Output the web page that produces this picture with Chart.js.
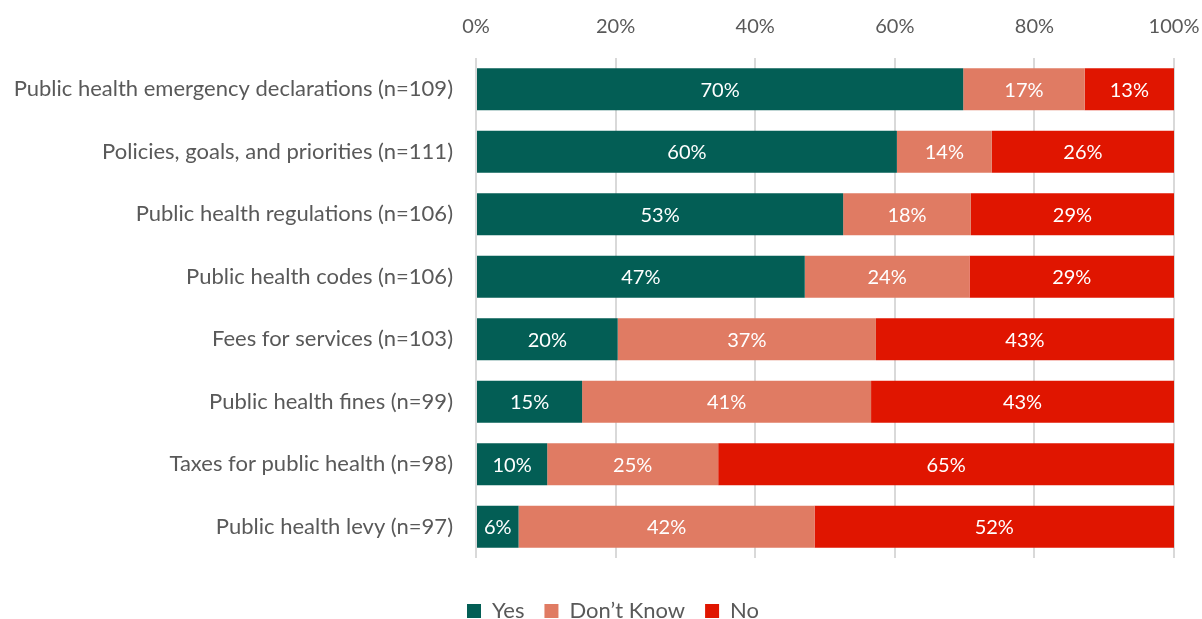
<!DOCTYPE html>
<html>
<head>
<meta charset="utf-8">
<script src="https://cdn.jsdelivr.net/npm/chart.js@4.4.1/dist/chart.umd.min.js"></script>
<style>
  html, body { margin: 0; padding: 0; background: #fff; }
  #wrap { width: 1202px; height: 619px; position: relative; }
</style>
</head>
<body>
<div id="wrap"><canvas id="chart"></canvas></div>
<script>
const categories = [
  "Public health emergency declarations (n=109)",
  "Policies, goals, and priorities (n=111)",
  "Public health regulations (n=106)",
  "Public health codes (n=106)",
  "Fees for services (n=103)",
  "Public health fines (n=99)",
  "Taxes for public health (n=98)",
  "Public health levy (n=97)"
];
const yesValues = [69.8, 60.3, 52.6, 47.1, 20.3, 15.2, 10.2, 6.1];
const dontKnowValues = [17.4, 13.6, 18.3, 23.6, 37.0, 41.4, 24.5, 42.4];
const noValues = [12.8, 26.1, 29.1, 29.3, 42.7, 43.4, 65.3, 51.5];
const xTicks = [0, 20, 40, 60, 80, 100];

const fontFamily = "Lato, 'Open Sans', sans-serif";
const textColor = "#595959";

// white percentage labels in the middle of every segment
const barLabels = {
  id: "barLabels",
  afterDatasetsDraw(chart) {
    const ctx = chart.ctx;
    ctx.save();
    ctx.font = "20px " + fontFamily;
    ctx.fillStyle = "#ffffff";
    ctx.textAlign = "center";
    ctx.textBaseline = "middle";
    chart.data.datasets.forEach((ds, i) => {
      const meta = chart.getDatasetMeta(i);
      meta.data.forEach((bar, j) => {
        const cx = (bar.x + bar.base) / 2;
        ctx.fillText(Math.round(ds.data[j]) + "%", cx, bar.y + 1);
      });
    });
    ctx.restore();
  }
};

// keep the legend short so the plot ends where it should, then nudge it down
const legendSpot = {
  id: "legendSpot",
  beforeLayout(chart) {
    const lg = chart.legend;
    if (lg && !lg._patched) {
      const fit = lg.fit.bind(lg);
      lg.fit = function () { fit(); this.height = 61; };
      lg._patched = true;
    }
  },
  afterLayout(chart) {
    const lg = chart.legend;
    if (lg) {
      lg.top += 22; lg.bottom += 22;
      lg.left += 26; lg.right += 26;
    }
  }
};

new Chart(document.getElementById("chart"), {
  type: "bar",
  data: {
    labels: categories,
    datasets: [
      { label: "Yes", data: yesValues, backgroundColor: "#035E55" },
      { label: "Don\u2019t Know", data: dontKnowValues, backgroundColor: "#E07B63" },
      { label: "No", data: noValues, backgroundColor: "#E01500" }
    ]
  },
  options: {
    indexAxis: "y",
    responsive: true,
    maintainAspectRatio: false,
    animation: false,
    layout: { padding: { left: 0, right: 28, top: 0, bottom: 0 } },
    datasets: {
      bar: { barPercentage: 0.67, categoryPercentage: 1.0 }
    },
    scales: {
      x: {
        position: "top",
        stacked: true,
        min: 0,
        max: 100,
        afterBuildTicks(axis) {
          axis.ticks = xTicks.map(v => ({ value: v }));
        },
        ticks: {
          color: textColor,
          font: { family: fontFamily, size: 20 },
          callback: v => v + "%",
          padding: 19
        },
        grid: { color: "#d9d9d9", lineWidth: 2, drawTicks: false },
        border: { display: false },
        afterFit(axis) { axis.height = 58; axis.paddingRight = 0; axis.paddingLeft = 0; }
      },
      y: {
        stacked: true,
        ticks: {
          color: textColor,
          font: { family: fontFamily, size: 22 },
          padding: 15
        },
        grid: { display: false },
        border: { display: false },
        afterFit(axis) { axis.width = 476; }
      }
    },
    plugins: {
      legend: {
        position: "bottom",
        labels: {
          color: textColor,
          font: { family: fontFamily, size: 22 },
          boxWidth: 14,
          boxHeight: 14,
          padding: 20
        }
      },
      tooltip: { enabled: false }
    }
  },
  plugins: [barLabels, legendSpot]
});
</script>
</body>
</html>
